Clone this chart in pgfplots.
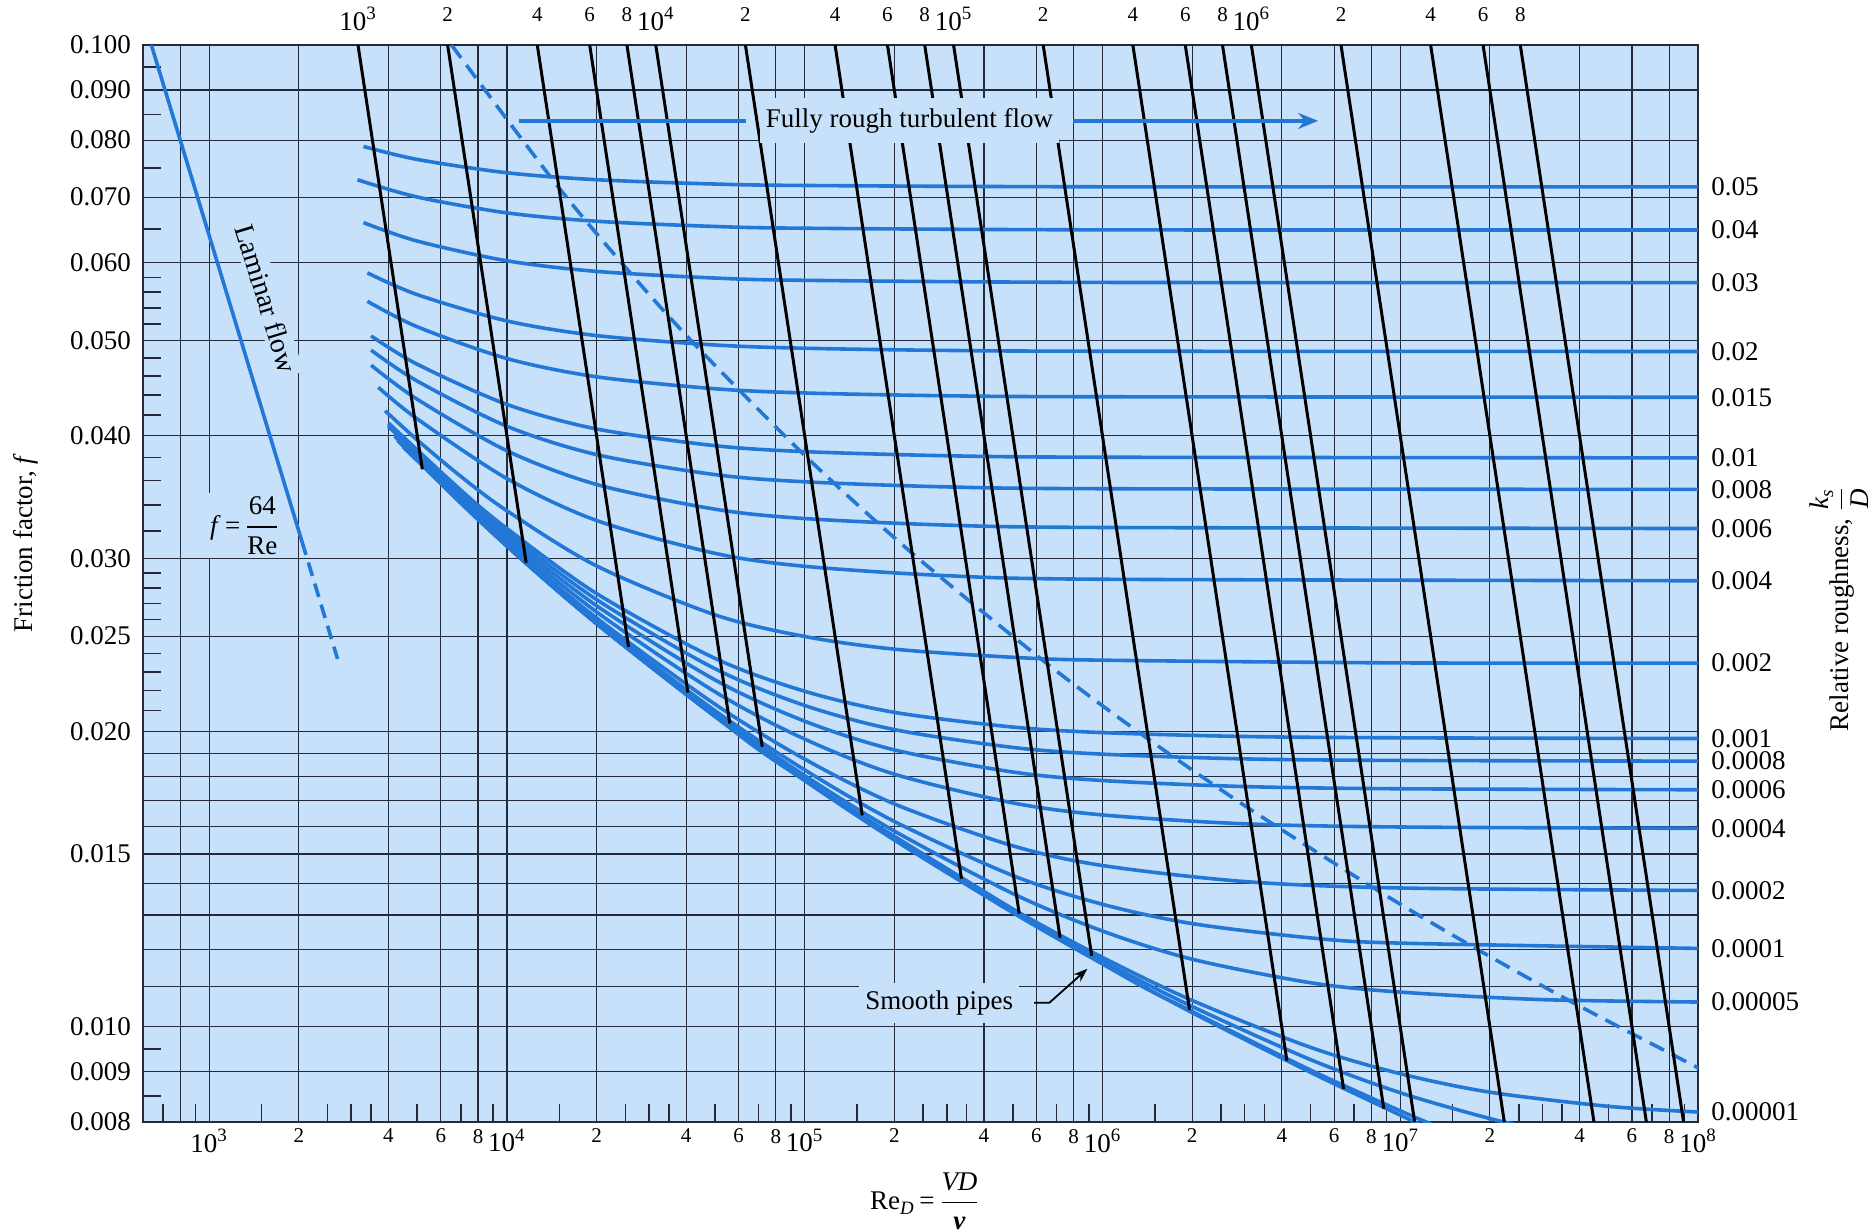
\documentclass[border=0pt]{standalone}
\usepackage{fontspec}
\setmainfont{Liberation Serif}
\usepackage{amsmath}
\usepackage{pgfplots}
\pgfplotsset{compat=1.18}
\usetikzlibrary{arrows.meta}
\definecolor{bgblue}{RGB}{200,225,250}
\definecolor{cblue}{RGB}{35,120,215}
\definecolor{gridc}{RGB}{35,42,58}
\newcommand{\fs}{\fontsize{13.5}{16}\selectfont}
\newcommand{\sm}{\fontsize{10.5}{12}\selectfont}
\newcommand{\dec}[1]{10\textsuperscript{#1}}
\tikzset{
  rough/.style={cblue, line width=1.8pt, smooth, tension=0.5},
  reline/.style={black, line width=1.5pt},
  toplab/.style={anchor=north, yshift=19pt, inner sep=0pt},
  rlab/.style={anchor=west, xshift=6.5pt, inner sep=0pt},
}
\begin{document}
\begin{tikzpicture}[font=\fs]
\begin{axis}[
    scale only axis, width=777.5pt, height=538.5pt,
    xmode=log, ymode=log,
    xmin=600, xmax=1e8, ymin=0.008, ymax=0.1,
    axis background/.style={fill=bgblue},
    axis line style={gridc, line width=1pt},
    clip mode=individual,
    xtick={800,1000,2000,4000,6000,8000,1e4,2e4,4e4,6e4,8e4,1e5,2e5,4e5,6e5,8e5,1e6,2e6,4e6,6e6,8e6,1e7,2e7,4e7,6e7,8e7,1e8},
    xticklabels={{},\dec{3},\sm 2,\sm 4,\sm 6,\sm 8,\dec{4},\sm 2,\sm 4,\sm 6,\sm 8,\dec{5},\sm 2,\sm 4,\sm 6,\sm 8,\dec{6},\sm 2,\sm 4,\sm 6,\sm 8,\dec{7},\sm 2,\sm 4,\sm 6,\sm 8,\dec{8}},
    minor xtick={700,900,1500,2500,3000,3500,5000,7000,9000,15000,25000,30000,35000,50000,70000,90000,1.5e5,2.5e5,3e5,3.5e5,5e5,7e5,9e5,1.5e6,2.5e6,3e6,3.5e6,5e6,7e6,9e6,1.5e7,2.5e7,3e7,3.5e7,5e7,7e7,9e7},
    ytick={0.008,0.009,0.010,0.011,0.012,0.013,0.014,0.015,0.016,0.017,0.018,0.019,0.020,0.025,0.030,0.040,0.050,0.060,0.070,0.080,0.090,0.100},
    yticklabels={0.008,0.009,0.010,,,,,0.015,,,,,0.020,0.025,0.030,0.040,0.050,0.060,0.070,0.080,0.090,0.100},
    minor ytick={0.0085,0.0095,0.021,0.022,0.023,0.024,0.026,0.027,0.028,0.029,0.032,0.034,0.036,0.038,0.042,0.044,0.046,0.048,0.052,0.054,0.056,0.058,0.065,0.075,0.085,0.095},
    xtick pos=left, ytick pos=left,
    tick align=inside,
    major tick length=0pt, minor tick length=9pt,
    minor tick style={gridc, line width=0.8pt},
    grid=major,
    major grid style={gridc, line width=0.6pt},
    ticklabel style={font=\fs},
    yticklabel style={xshift=-2.5pt},
    /pgf/number format/assume math mode=true,
]
% relative roughness curves
\addplot[rough] coordinates {(3300,0.07885) (5000,0.07648) (1e4,0.07412) (2e4,0.07292) (5e4,0.07219) (1e5,0.07194) (1e6,0.07172) (1e8,0.07170)};
\addplot[rough] coordinates {(3150,0.07291) (5000,0.07002) (1e4,0.06746) (2e4,0.06615) (5e4,0.06535) (1e5,0.06508) (1e6,0.06483) (1e8,0.06480)};
\addplot[rough] coordinates {(3300,0.06594) (5000,0.06314) (1e4,0.06029) (2e4,0.05881) (5e4,0.05790) (1e5,0.05759) (1e6,0.05731) (1e8,0.05729)};
\addplot[rough] coordinates {(3400,0.05861) (5000,0.05569) (1e4,0.05236) (2e4,0.05059) (5e4,0.04949) (1e5,0.04911) (3e5,0.04886) (1e6,0.04877) (1e8,0.04874)};
\addplot[rough] coordinates {(3400,0.05483) (5000,0.05165) (1e4,0.04794) (2e4,0.04593) (5e4,0.04466) (1e5,0.04422) (3e5,0.04393) (1e6,0.04383) (1e8,0.04378)};
\addplot[rough] coordinates {(3500,0.05055) (5000,0.04730) (1e4,0.04305) (2e4,0.04064) (5e4,0.03908) (1e5,0.03854) (3e5,0.03817) (1e6,0.03804) (1e8,0.03798)};
\addplot[rough] coordinates {(3500,0.04889) (5000,0.04547) (1e4,0.04090) (2e4,0.03827) (5e4,0.03652) (1e5,0.03591) (3e5,0.03548) (1e6,0.03533) (1e8,0.03527)};
\addplot[rough] coordinates {(3500,0.04720) (5000,0.04357) (1e4,0.03862) (2e4,0.03568) (5e4,0.03367) (1e5,0.03294) (3e5,0.03244) (1e6,0.03226) (1e8,0.03218)};
\addplot[rough] coordinates {(3700,0.04481) (5000,0.04161) (1e4,0.03618) (2e4,0.03279) (5e4,0.03036) (1e5,0.02945) (3e5,0.02881) (1e6,0.02857) (1e8,0.02847)};
\addplot[rough] coordinates {(3900,0.04241) (5000,0.03961) (7000,0.03637) (1e4,0.03355) (2e4,0.02948) (5e4,0.02628) (1e5,0.02498) (2e5,0.02425) (5e5,0.02379) (1e6,0.02363) (1e7,0.02348) (1e8,0.02347)};
\addplot[rough] coordinates {(4000,0.04122) (7000,0.03521) (1e4,0.03218) (2e4,0.02763) (5e4,0.02373) (1e5,0.02197) (2e5,0.02091) (5e5,0.02020) (1e6,0.01994) (3e6,0.01976) (1e7,0.01970) (1e8,0.01967)};
\addplot[rough] coordinates {(4000,0.04104) (7000,0.03499) (1e4,0.03190) (2e4,0.02724) (5e4,0.02316) (1e5,0.02125) (2e5,0.02008) (5e5,0.01926) (1e6,0.01896) (3e6,0.01875) (1e7,0.01868) (1e8,0.01865)};
\addplot[rough] coordinates {(4000,0.04088) (7000,0.03476) (1e4,0.03163) (2e4,0.02685) (5e4,0.02256) (1e5,0.02048) (2e5,0.01915) (5e5,0.01818) (1e6,0.01782) (3e6,0.01757) (1e7,0.01748) (1e8,0.01744)};
\addplot[rough] coordinates {(4200,0.04011) (7000,0.03454) (1e4,0.03137) (2e4,0.02646) (5e4,0.02194) (1e5,0.01964) (2e5,0.01809) (5e5,0.01691) (1e6,0.01644) (3e6,0.01610) (1e7,0.01598) (1e8,0.01593)};
\addplot[rough] coordinates {(4200,0.03995) (7000,0.03433) (1e4,0.03111) (2e4,0.02609) (5e4,0.02131) (1e5,0.01874) (2e5,0.01687) (5e5,0.01529) (1e6,0.01460) (3e6,0.01406) (1e7,0.01385) (1e8,0.01377)};
\addplot[rough] coordinates {(4300,0.03958) (7000,0.03424) (1e4,0.03099) (2e4,0.02591) (5e4,0.02099) (1e5,0.01827) (2e5,0.01619) (5e5,0.01426) (1e6,0.01333) (2e6,0.01274) (5e6,0.01232) (1e7,0.01217) (1e8,0.01202)};
\addplot[rough] coordinates {(4300,0.03955) (1e4,0.03093) (2e4,0.02582) (5e4,0.02085) (1e5,0.01803) (2e5,0.01583) (5e5,0.01367) (1e6,0.01252) (2e6,0.01172) (5e6,0.01109) (1e7,0.01085) (3e7,0.01066) (1e8,0.01060)};
\addplot[rough] coordinates {(4500,0.03897) (1e4,0.03089) (2e4,0.02576) (5e4,0.02074) (1e5,0.01786) (2e5,0.01556) (5e5,0.01318) (1e6,0.01177) (2e6,0.01064) (5e6,0.00953) (1e7,0.00896) (2e7,0.00858) (5e7,0.00830) (1e8,0.00819)};
% 0.000005, 0.000001 and smooth pipes
\addplot[rough] coordinates {(4500,0.03897) (1e4,0.03089) (2e4,0.02575) (5e4,0.02072) (1e5,0.01784) (2e5,0.01553) (5e5,0.01312) (1e6,0.01167) (2e6,0.01049) (5e6,0.009260) (1e7,0.008568) (2e7,0.008065) (3e7,0.007848)};
\addplot[rough] coordinates {(4500,0.03897) (1e4,0.03089) (2e4,0.02575) (5e4,0.02071) (1e5,0.01783) (1e6,0.01160) (2e6,0.010369) (5e6,0.009036) (1e7,0.008213) (1.3e7,0.007939)};
\addplot[rough] coordinates {(4500,0.03897) (7000,0.03415) (1e4,0.03089) (2e4,0.02575) (5e4,0.02071) (1e5,0.01782) (2e5,0.01550) (5e5,0.01307) (1e6,0.01159) (2e6,0.01034) (5e6,0.008988) (1e7,0.008131) (1.2e7,0.007926)};
% laminar
\addplot[cblue, line width=1.8pt] coordinates {(640,0.1) (2050,0.03122)};
\addplot[cblue, line width=1.8pt, dash pattern=on 7pt off 4pt] coordinates {(2050,0.03122) (2700,0.02370)};
% start of fully rough zone
\addplot[cblue, line width=1.8pt, dash pattern=on 8pt off 4.5pt, smooth] coordinates {(6516,0.1) (14954,0.07155) (27881,0.05717) (45343,0.04864) (102728,0.03790) (229537,0.03037) (653434,0.02342) (1.42728e6,0.019636) (3.09537e6,0.016699) (8.53434e6,0.013730) (1.82728e7,0.011980) (3.89537e7,0.010544) (1.05343e8,0.0090113)};
% lines of constant Re f^(1/2)
\addplot[reline] coordinates {(3162.3,0.1) (5200.7,0.036973)};
\addplot[reline] coordinates {(6324.6,0.1) (11605,0.029699)};
\addplot[reline] coordinates {(12649,0.1) (25619,0.024378)};
\addplot[reline] coordinates {(18974,0.1) (40542,0.021903)};
\addplot[reline] coordinates {(25298,0.1) (56055,0.020369)};
\addplot[reline] coordinates {(31623,0.1) (72007,0.019287)};
\addplot[reline] coordinates {(63246,0.1) (156054,0.016425)};
\addplot[reline] coordinates {(126491,0.1) (336191,0.014156)};
\addplot[reline] coordinates {(189737,0.1) (525418,0.013040)};
\addplot[reline] coordinates {(252982,0.1) (720547,0.012327)};
\addplot[reline] coordinates {(316228,0.1) (920066,0.011813)};
\addplot[reline] coordinates {(632456,0.1) (1.96054e6,0.010407)};
\addplot[reline] coordinates {(1.264911e6,0.1) (4.16191e6,0.0092372)};
\addplot[reline] coordinates {(1.897367e6,0.1) (6.45418e6,0.0086421)};
\addplot[reline] coordinates {(2.529822e6,0.1) (8.80547e6,0.0082543)};
\addplot[reline] coordinates {(3.162278e6,0.1) (1.11803e7,0.008)};
\addplot[reline] coordinates {(6.324555e6,0.1) (2.23607e7,0.008)};
\addplot[reline] coordinates {(1.2649111e7,0.1) (4.47214e7,0.008)};
\addplot[reline] coordinates {(1.8973666e7,0.1) (6.7082e7,0.008)};
\addplot[reline] coordinates {(2.5298221e7,0.1) (8.94427e7,0.008)};

% top labels (Re f^(1/2))
\node[toplab] at (axis cs:3162.3,0.1) {\dec{3}};
\node[toplab] at (axis cs:6324.6,0.1) {\sm 2};
\node[toplab] at (axis cs:12649,0.1) {\sm 4};
\node[toplab] at (axis cs:18974,0.1) {\sm 6};
\node[toplab] at (axis cs:25298,0.1) {\sm 8};
\node[toplab] at (axis cs:31623,0.1) {\dec{4}};
\node[toplab] at (axis cs:63246,0.1) {\sm 2};
\node[toplab] at (axis cs:126491,0.1) {\sm 4};
\node[toplab] at (axis cs:189737,0.1) {\sm 6};
\node[toplab] at (axis cs:252982,0.1) {\sm 8};
\node[toplab] at (axis cs:316228,0.1) {\dec{5}};
\node[toplab] at (axis cs:632456,0.1) {\sm 2};
\node[toplab] at (axis cs:1.264911e6,0.1) {\sm 4};
\node[toplab] at (axis cs:1.897367e6,0.1) {\sm 6};
\node[toplab] at (axis cs:2.529822e6,0.1) {\sm 8};
\node[toplab] at (axis cs:3.162278e6,0.1) {\dec{6}};
\node[toplab] at (axis cs:6.324555e6,0.1) {\sm 2};
\node[toplab] at (axis cs:1.2649111e7,0.1) {\sm 4};
\node[toplab] at (axis cs:1.8973666e7,0.1) {\sm 6};
\node[toplab] at (axis cs:2.5298221e7,0.1) {\sm 8};

% relative roughness labels
\node[rlab] at (axis cs:1e8,0.07170) {0.05};
\node[rlab] at (axis cs:1e8,0.06480) {0.04};
\node[rlab] at (axis cs:1e8,0.05729) {0.03};
\node[rlab] at (axis cs:1e8,0.04874) {0.02};
\node[rlab] at (axis cs:1e8,0.04378) {0.015};
\node[rlab] at (axis cs:1e8,0.03798) {0.01};
\node[rlab] at (axis cs:1e8,0.03527) {0.008};
\node[rlab] at (axis cs:1e8,0.03218) {0.006};
\node[rlab] at (axis cs:1e8,0.02847) {0.004};
\node[rlab] at (axis cs:1e8,0.02347) {0.002};
\node[rlab] at (axis cs:1e8,0.01967) {0.001};
\node[rlab] at (axis cs:1e8,0.01865) {0.0008};
\node[rlab] at (axis cs:1e8,0.01744) {0.0006};
\node[rlab] at (axis cs:1e8,0.01593) {0.0004};
\node[rlab] at (axis cs:1e8,0.01377) {0.0002};
\node[rlab] at (axis cs:1e8,0.01202) {0.0001};
\node[rlab] at (axis cs:1e8,0.01060) {0.00005};
\node[rlab] at (axis cs:1e8,0.00819) {0.00001};

% annotations
\node[fill=bgblue, inner xsep=2pt, inner ysep=2pt, rotate=-73, font=\fontsize{14}{16}\selectfont] at (axis cs:1560,0.0552) {Laminar flow};
\node[fill=bgblue, inner sep=2pt] at (axis cs:1319,0.0324) {\textit{f}\,=\,$\dfrac{\text{64}}{\text{Re}}$};
\draw[cblue, line width=1.8pt] (axis cs:10970,0.0837) -- (axis cs:63300,0.0837);
\draw[cblue, line width=1.8pt, -{Stealth[length=10pt, width=8pt]}] (axis cs:7.98e5,0.0837) -- (axis cs:5.3e6,0.0837);
\node[fill=bgblue, inner xsep=3pt, inner ysep=5pt] at (axis cs:2.25e5,0.0837) {Fully rough turbulent flow};
\node[fill=bgblue, inner xsep=3pt, inner ysep=4pt] at (axis cs:2.83e5,0.01057) {Smooth pipes};
\draw[black, line width=0.9pt, -{Stealth[length=7pt, width=5pt]}] (axis cs:5.9e5,0.01058) -- (axis cs:6.63e5,0.01058) -- (axis cs:8.9e5,0.01146);

% axis titles
\node[rotate=90] at (rel axis cs:-0.0752,0.5376) {Friction factor, \textit{f}};
\node[rotate=90] at (rel axis cs:1.0907,0.4763) {Relative roughness, $\dfrac{\textit{k}_{\textit{s}}}{\textit{D}}$};
\node at (rel axis cs:0.5029,-0.0735) {Re\textsubscript{\textit{D}}\,=\,$\dfrac{\textit{VD}}{\textbf{\textit{ν}}}$};

\coordinate (bbsw) at (rel axis cs:-0.0920,-0.1021);
\coordinate (bbne) at (rel axis cs:1.1119,1.0418);
\end{axis}
\pgfresetboundingbox
\useasboundingbox (bbsw) rectangle (bbne);
\end{tikzpicture}
\end{document}
